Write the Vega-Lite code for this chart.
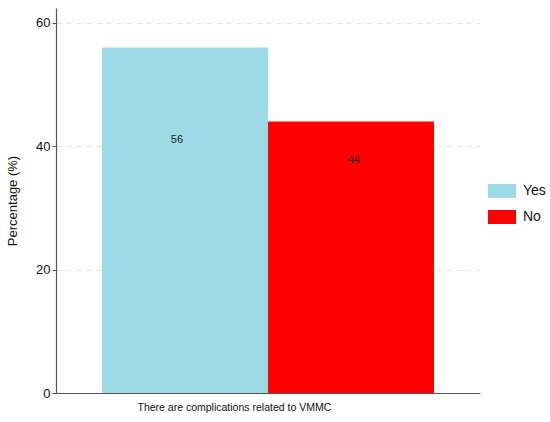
{
  "$schema": "https://vega.github.io/schema/vega-lite/v6.json",
  "width": 424,
  "height": 385,
  "autosize": {"type": "none"},
  "padding": {"left": 56, "top": 8, "right": 70, "bottom": 29},
  "background": "white",
  "config": {"view": {"stroke": null}, "font": "Liberation Sans"},
  "data": {"values": [
    {"group": "There are complications related to VMMC", "answer": "Yes", "percent": 56},
    {"group": "There are complications related to VMMC", "answer": "No", "percent": 44}
  ]},
  "encoding": {
    "x": {"field": "answer", "type": "nominal", "sort": ["Yes", "No"],
      "scale": {"paddingInner": 0, "paddingOuter": 0.277},
      "axis": {"labels": false, "ticks": false, "domainColor": "#555555", "domainWidth": 1.2,
        "title": "There are complications related to VMMC", "titleFontSize": 10.5, "titleFontWeight": "normal",
        "titleColor": "#111111", "titleAnchor": "start", "titleAlign": "left", "titleX": 81, "titleY": 17, "titleBaseline": "alphabetic"}},
    "y": {"field": "percent", "type": "quantitative", "scale": {"domain": [0, 62.4], "nice": false},
      "axis": {"values": [0, 20, 40, 60], "title": "Percentage (%)", "titleFontSize": 13, "titleFontWeight": "normal",
        "titleColor": "#111111", "titlePadding": 16, "labelFontSize": 13, "labelColor": "#111111",
        "domainColor": "#555555", "domainWidth": 1.2, "tickColor": "#555555", "tickSize": 4, "labelPadding": 2,
        "grid": true, "gridColor": "#e4e4e4", "gridDash": [6, 4]}}
  },
  "layer": [
    {
      "mark": {"type": "bar"},
      "encoding": {
        "color": {"field": "answer", "type": "nominal", "sort": ["Yes", "No"],
          "scale": {"domain": ["Yes", "No"], "range": ["#9cdae6", "#ff0000"]},
          "legend": {"title": null, "orient": "none", "legendX": 432, "legendY": 169,
            "symbolType": "M-1,-0.5H1V0.5H-1Z", "symbolSize": 784, "symbolStrokeWidth": 0,
            "labelFontSize": 14, "labelColor": "#111111", "labelOffset": 7, "rowPadding": 5}}
      }
    },
    {
      "transform": [{"filter": "datum.answer === 'Yes'"}],
      "mark": {"type": "text", "fontSize": 11, "color": "#222222", "dy": 93, "dx": -8},
      "encoding": {"text": {"field": "percent", "type": "quantitative"}}
    },
    {
      "transform": [{"filter": "datum.answer === 'No'"}],
      "mark": {"type": "text", "fontSize": 11, "color": "#222222", "dy": 38, "dx": 3},
      "encoding": {"text": {"field": "percent", "type": "quantitative"}}
    }
  ]
}
